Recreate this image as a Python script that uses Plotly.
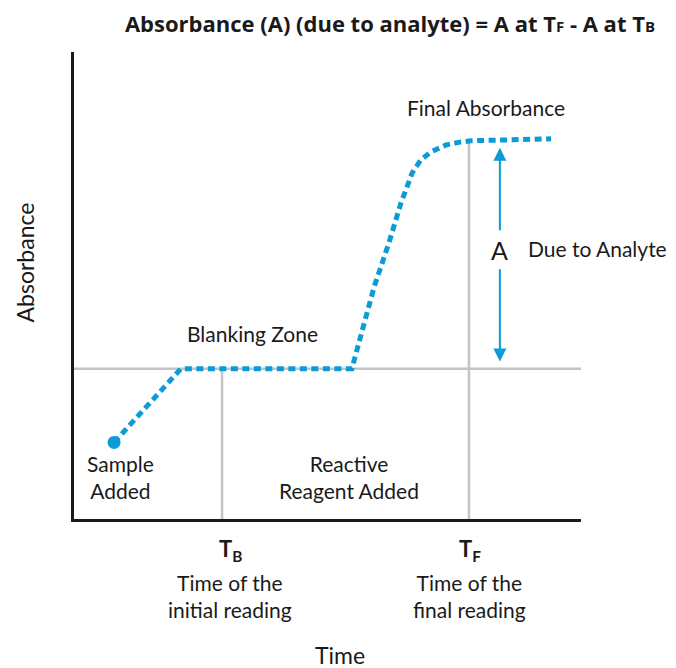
import plotly.graph_objects as go

# reaction curve (time in arbitrary units, absorbance in arbitrary units)
time = [0.79, 2.11, 5.48, 5.68, 5.92, 6.21, 6.45, 6.67, 6.84, 7.04, 7.34, 7.61, 7.83, 9.41]
absorbance = [1.64, 3.22, 3.22, 3.99, 4.97, 5.91, 6.77, 7.41, 7.69, 7.86, 8.01, 8.07, 8.10, 8.14]

baseline = 3.22
final_abs = 8.10
t_b = 2.92
t_f = 7.79
arrow_x = 8.40

BLUE = "#0b9bd7"
GRAY = "#c4c4c4"
INK = "#1a1a1a"
FONT = "Lato"

fig = go.Figure()

# gray reference lines
fig.add_trace(go.Scatter(x=[0, 10], y=[baseline, baseline], mode="lines",
                         line=dict(color=GRAY, width=2.5), hoverinfo="skip"))
fig.add_trace(go.Scatter(x=[t_b, t_b], y=[0, baseline], mode="lines",
                         line=dict(color=GRAY, width=2.5), hoverinfo="skip"))
fig.add_trace(go.Scatter(x=[t_f, t_f], y=[0, final_abs], mode="lines",
                         line=dict(color=GRAY, width=2.5), hoverinfo="skip"))

# dotted absorbance curve
fig.add_trace(go.Scatter(x=time, y=absorbance, mode="lines",
                         line=dict(color=BLUE, width=5, dash="7px,4.5px"),
                         hoverinfo="skip"))
fig.add_trace(go.Scatter(x=time[:1], y=absorbance[:1], mode="markers",
                         marker=dict(color=BLUE, size=13), hoverinfo="skip"))

# double-headed arrow broken by the "A" label
arrow = dict(xref="x", yref="y", axref="x", ayref="y", text="", showarrow=True,
             arrowhead=2, arrowsize=1.3, arrowwidth=2, arrowcolor=BLUE)
fig.add_annotation(x=arrow_x, y=7.95, ax=arrow_x, ay=6.15, **arrow)
fig.add_annotation(x=arrow_x, y=3.37, ax=arrow_x, ay=5.38, **arrow)


def label(x, y, text, size=21, angle=0):
    fig.add_annotation(x=x, y=y, xref="paper", yref="paper", text=text, showarrow=False,
                       xanchor="center", yanchor="middle", textangle=angle,
                       font=dict(family=FONT, size=size, color=INK))


label(0.813, 0.882, "Final Absorbance")
label(0.353, 0.397, "Blanking Zone")
label(0.840, 0.576, "A", size=25)
label(1.033, 0.579, "Due to Analyte")
label(0.091, 0.089, "Sample<br>Added")
label(0.542, 0.089, "Reactive<br>Reagent Added")
label(0.308, -0.067, "<b>T<sub>B</sub></b>", size=22)
label(0.308, -0.164, "Time of the<br>initial reading")
label(0.781, -0.067, "<b>T<sub>F</sub></b>", size=22)
label(0.781, -0.164, "Time of the<br>final reading")
label(0.525, -0.292, "Time", size=23)
label(-0.097, 0.549, "Absorbance", size=23, angle=-90)

fig.update_layout(
    width=676, height=668,
    margin=dict(l=66, r=103, t=44, b=156.5),
    paper_bgcolor="white", plot_bgcolor="white",
    showlegend=False,
    title=dict(
        text="<b>Absorbance (A) (due to analyte) = A at T<span style='font-size:15px'>F</span>"
             " - A at T<span style='font-size:15px'>B</span></b>",
        x=0.565, xanchor="center", y=0.975, yanchor="middle",
        font=dict(family="Open Sans", size=22, color=INK),
    ),
    xaxis=dict(range=[0, 10], showgrid=False, zeroline=False, showticklabels=False,
               ticks="", showline=True, linecolor=INK, linewidth=3),
    yaxis=dict(range=[0, 10], showgrid=False, zeroline=False, showticklabels=False,
               ticks="", showline=True, linecolor=INK, linewidth=3),
)

fig.write_html("out.html")
